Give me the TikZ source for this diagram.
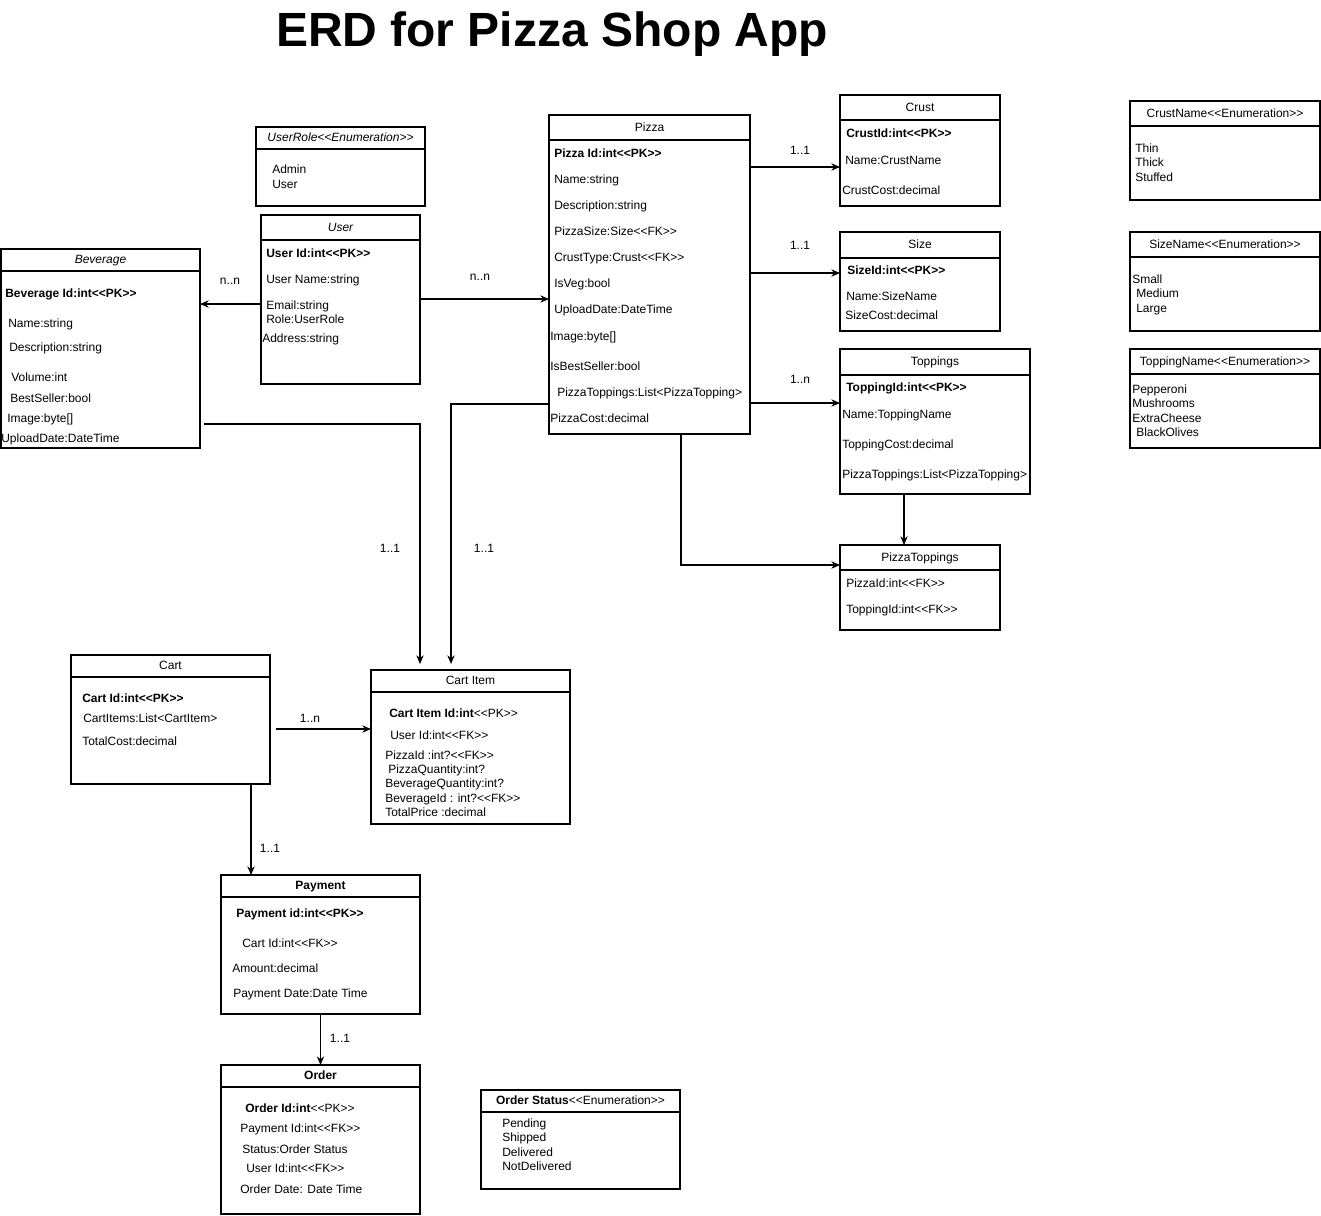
\documentclass[tikz,border=0pt]{standalone}
\usepackage{fontspec}
\setmainfont{Liberation Sans}
\usetikzlibrary{arrows.meta}
\newcounter{tn}
\newcommand\LL{<\kern0pt<}
\newcommand\GG{>\kern0pt>}
\tikzset{
  ebox/.style={draw, line width=0.8pt, inner sep=0pt, outer sep=0pt},
  eline/.style={line width=0.8pt},
  txt/.style={inner sep=0pt, anchor=base west, font=\fontsize{9pt}{11pt}\selectfont},
  ttl/.style={inner sep=0pt, anchor=base, font=\fontsize{9pt}{11pt}\selectfont},
  lbl/.style={inner sep=0pt, font=\fontsize{9pt}{11pt}\selectfont},
  arr/.style={line width=0.8pt, -{Stealth[length=6.5pt,width=5.5pt]}},
}
% name, x1, y1, x2, y2, header line y
\newcommand\entbox[6]{%
  \node[ebox, minimum width={(#4-#2)*0.75pt}, minimum height={(#5-#3)*0.75pt}] (#1) at ({(#2+#4)/2},{(#3+#5)/2}) {};
  \draw[eline] (#2,#6) -- (#4,#6);}
\newcommand\tx[3]{\stepcounter{tn}\node[txt] (t\arabic{tn}) at (#1,{#2+4}) {#3};}
\newcommand\tc[3]{\stepcounter{tn}\node[ttl] (t\arabic{tn}) at (#1,{#2+4}) {#3};}
\begin{document}
\begin{tikzpicture}[x=0.75pt,y=-0.75pt]
\useasboundingbox (0,0) rectangle (1321,1215);
\fill[white] (0,0) rectangle (1321,1215);

\node[inner sep=0pt, anchor=base, font=\fontsize{36pt}{40pt}\selectfont\bfseries] (title) at (552,46) {ERD for Pizza Shop App};

% ---- UserRole enum
\entbox{urole}{256}{127}{425}{206}{149}
\tc{340.5}{137}{\itshape UserRole\LL Enumeration\GG}
\tx{272}{169}{Admin}
\tx{272}{184}{User}

% ---- User
\entbox{user}{261}{215}{420}{384}{240}
\tc{340.5}{227}{\itshape User}
\tx{266}{253}{\textbf{User Id:int\LL PK\GG}}
\tx{266}{279}{User Name:string}
\tx{266}{305}{Email:string}
\tx{266}{319}{Role:UserRole}
\tx{262}{338}{Address:string}

% ---- Beverage
\entbox{bev}{1}{249}{200}{448}{271}
\tc{100.5}{259}{\itshape Beverage}
\tx{5}{293}{\textbf{Beverage Id:int\LL PK\GG}}
\tx{8}{323}{Name:string}
\tx{9}{347}{Description:string}
\tx{11}{377}{Volume:int}
\tx{10}{398}{BestSeller:bool}
\tx{7}{418}{Image:byte[]}
\tx{1}{438}{UploadDate:DateTime}

% ---- Pizza
\entbox{pizza}{549}{115}{750}{434}{140}
\tc{649.5}{127}{Pizza}
\tx{554}{153}{\textbf{Pizza Id:int\LL PK\GG}}
\tx{554}{179}{Name:string}
\tx{554}{205}{Description:string}
\tx{554}{231}{PizzaSize:Size\LL FK\GG}
\tx{554}{257}{CrustType:Crust\LL FK\GG}
\tx{554}{283}{IsVeg:bool}
\tx{554}{309}{UploadDate:DateTime}
\tx{550}{336}{Image:byte[]}
\tx{550}{366}{IsBestSeller:bool}
\tx{557}{392}{PizzaToppings:List<PizzaTopping>}
\tx{550}{418}{PizzaCost:decimal}

% ---- Crust
\entbox{crust}{840}{95}{1000}{206}{120}
\tc{920}{107}{Crust}
\tx{846}{133}{\textbf{CrustId:int\LL PK\GG}}
\tx{845}{160}{Name:CrustName}
\tx{842}{190}{CrustCost:decimal}

% ---- Size
\entbox{size}{840}{232}{1000}{331}{258}
\tc{920}{244}{Size}
\tx{847}{270}{\textbf{SizeId:int\LL PK\GG}}
\tx{846}{296}{Name:SizeName}
\tx{845}{315}{SizeCost:decimal}

% ---- Toppings
\entbox{top}{840}{349}{1030}{494}{375}
\tc{935}{361}{Toppings}
\tx{846}{387}{\textbf{ToppingId:int\LL PK\GG}}
\tx{842}{414}{Name:ToppingName}
\tx{842}{444}{ToppingCost:decimal}
\tx{842}{474}{PizzaToppings:List<PizzaTopping>}

% ---- PizzaToppings
\entbox{pt}{840}{545}{1000}{630}{570}
\tc{920}{557}{PizzaToppings}
\tx{846}{583}{PizzaId:int\LL FK\GG}
\tx{846}{609}{ToppingId:int\LL FK\GG}

% ---- enums right
\entbox{crustname}{1130}{101}{1320}{200}{126}
\tc{1225}{113}{CrustName\LL Enumeration\GG}
\tx{1135}{148}{Thin}
\tx{1135}{162}{Thick}
\tx{1135}{177}{Stuffed}

\entbox{sizename}{1130}{232}{1320}{331}{257}
\tc{1225}{244}{SizeName\LL Enumeration\GG}
\tx{1132}{279}{Small}
\tx{1136}{293}{Medium}
\tx{1136}{308}{Large}

\entbox{topname}{1130}{349}{1320}{448}{374}
\tc{1225}{361}{ToppingName\LL Enumeration\GG}
\tx{1132}{389}{Pepperoni}
\tx{1132}{403}{Mushrooms}
\tx{1132}{418}{ExtraCheese}
\tx{1136}{432}{BlackOlives}

% ---- Cart
\entbox{cart}{71}{655}{270}{784}{677}
\tc{170.5}{665}{Cart}
\tx{82}{698}{\textbf{Cart Id:int\LL PK\GG}}
\tx{83}{718}{CartItems:List<CartItem>}
\tx{82}{741}{TotalCost:decimal}

% ---- Cart Item
\entbox{ci}{371}{670}{570}{824}{692}
\tc{470.5}{680}{Cart Item}
\tx{389}{713}{\textbf{Cart Item Id:int}\LL PK\GG}
\tx{390}{735}{User Id:int\LL FK\GG}
\tx{385}{755}{PizzaId :int?\LL FK\GG}
\tx{388}{769}{PizzaQuantity:int?}
\tx{385}{783}{BeverageQuantity:int?}
\tx{385}{798}{BeverageId : int?\LL FK\GG}
\tx{385}{812}{TotalPrice :decimal}

% ---- Payment
\entbox{pay}{221}{875}{420}{1014}{897}
\tc{320.5}{885}{\textbf{Payment}}
\tx{236}{913}{\textbf{Payment id:int\LL PK\GG}}
\tx{242}{943}{Cart Id:int\LL FK\GG}
\tx{232}{968}{Amount:decimal}
\tx{233}{993}{Payment Date:Date Time}

% ---- Order
\entbox{ord}{221}{1065}{420}{1214}{1087}
\tc{320.5}{1075}{\textbf{Order}}
\tx{245}{1108}{\textbf{Order Id:int}\LL PK\GG}
\tx{240}{1128}{Payment Id:int\LL FK\GG}
\tx{242}{1149}{Status:Order Status}
\tx{246}{1168}{User Id:int\LL FK\GG}
\tx{240}{1189}{Order Date: Date Time}

% ---- Order Status enum
\entbox{ostat}{481}{1090}{680}{1189}{1112}
\tc{580.5}{1100}{\textbf{Order Status}\LL Enumeration\GG}
\tx{502}{1123}{Pending}
\tx{502}{1137}{Shipped}
\tx{502}{1152}{Delivered}
\tx{502}{1166}{NotDelivered}

% ---- connectors
\draw[arr] (user.west |- 0,304) -- (bev.east |- 0,304);
\node[lbl] (l1) at (230,281) {n..n};
\draw[arr] (user.east |- 0,299) -- (pizza.west |- 0,299);
\node[lbl] (l2) at (480,277) {n..n};
\draw[arr] (pizza.east |- 0,167) -- (crust.west |- 0,167);
\node[lbl] (l3) at (800,150) {1..1};
\draw[arr] (pizza.east |- 0,273) -- (size.west |- 0,273);
\node[lbl] (l4) at (800,245) {1..1};
\draw[arr] (pizza.east |- 0,403) -- (top.west |- 0,403);
\node[lbl] (l5) at (800,379) {1..n};
\draw[arr] (top.south -| 904,0) -- (pt.north -| 904,0);
\draw[arr] (pizza.south -| 681,0) |- (pt.west |- 0,565);
\draw[arr] ([xshift=3pt]bev.east |- 0,424) -| ([yshift=4.5pt]ci.north -| 420,0);
\node[lbl] (l6) at (390,548) {1..1};
\draw[arr] (pizza.west |- 0,404) -| ([yshift=4.5pt]ci.north -| 451,0);
\node[lbl] (l7) at (484,548) {1..1};
\draw[arr] ([xshift=4.5pt]cart.east |- 0,729) -- (ci.west |- 0,729);
\node[lbl] (l8) at (310,718) {1..n};
\draw[arr] (cart.south -| 251,0) -- (pay.north -| 251,0);
\node[lbl] (l9) at (270,848) {1..1};
\draw[arr] (pay.south) -- (ord.north);
\node[lbl] (l10) at (340,1038) {1..1};
\end{tikzpicture}
\end{document}
